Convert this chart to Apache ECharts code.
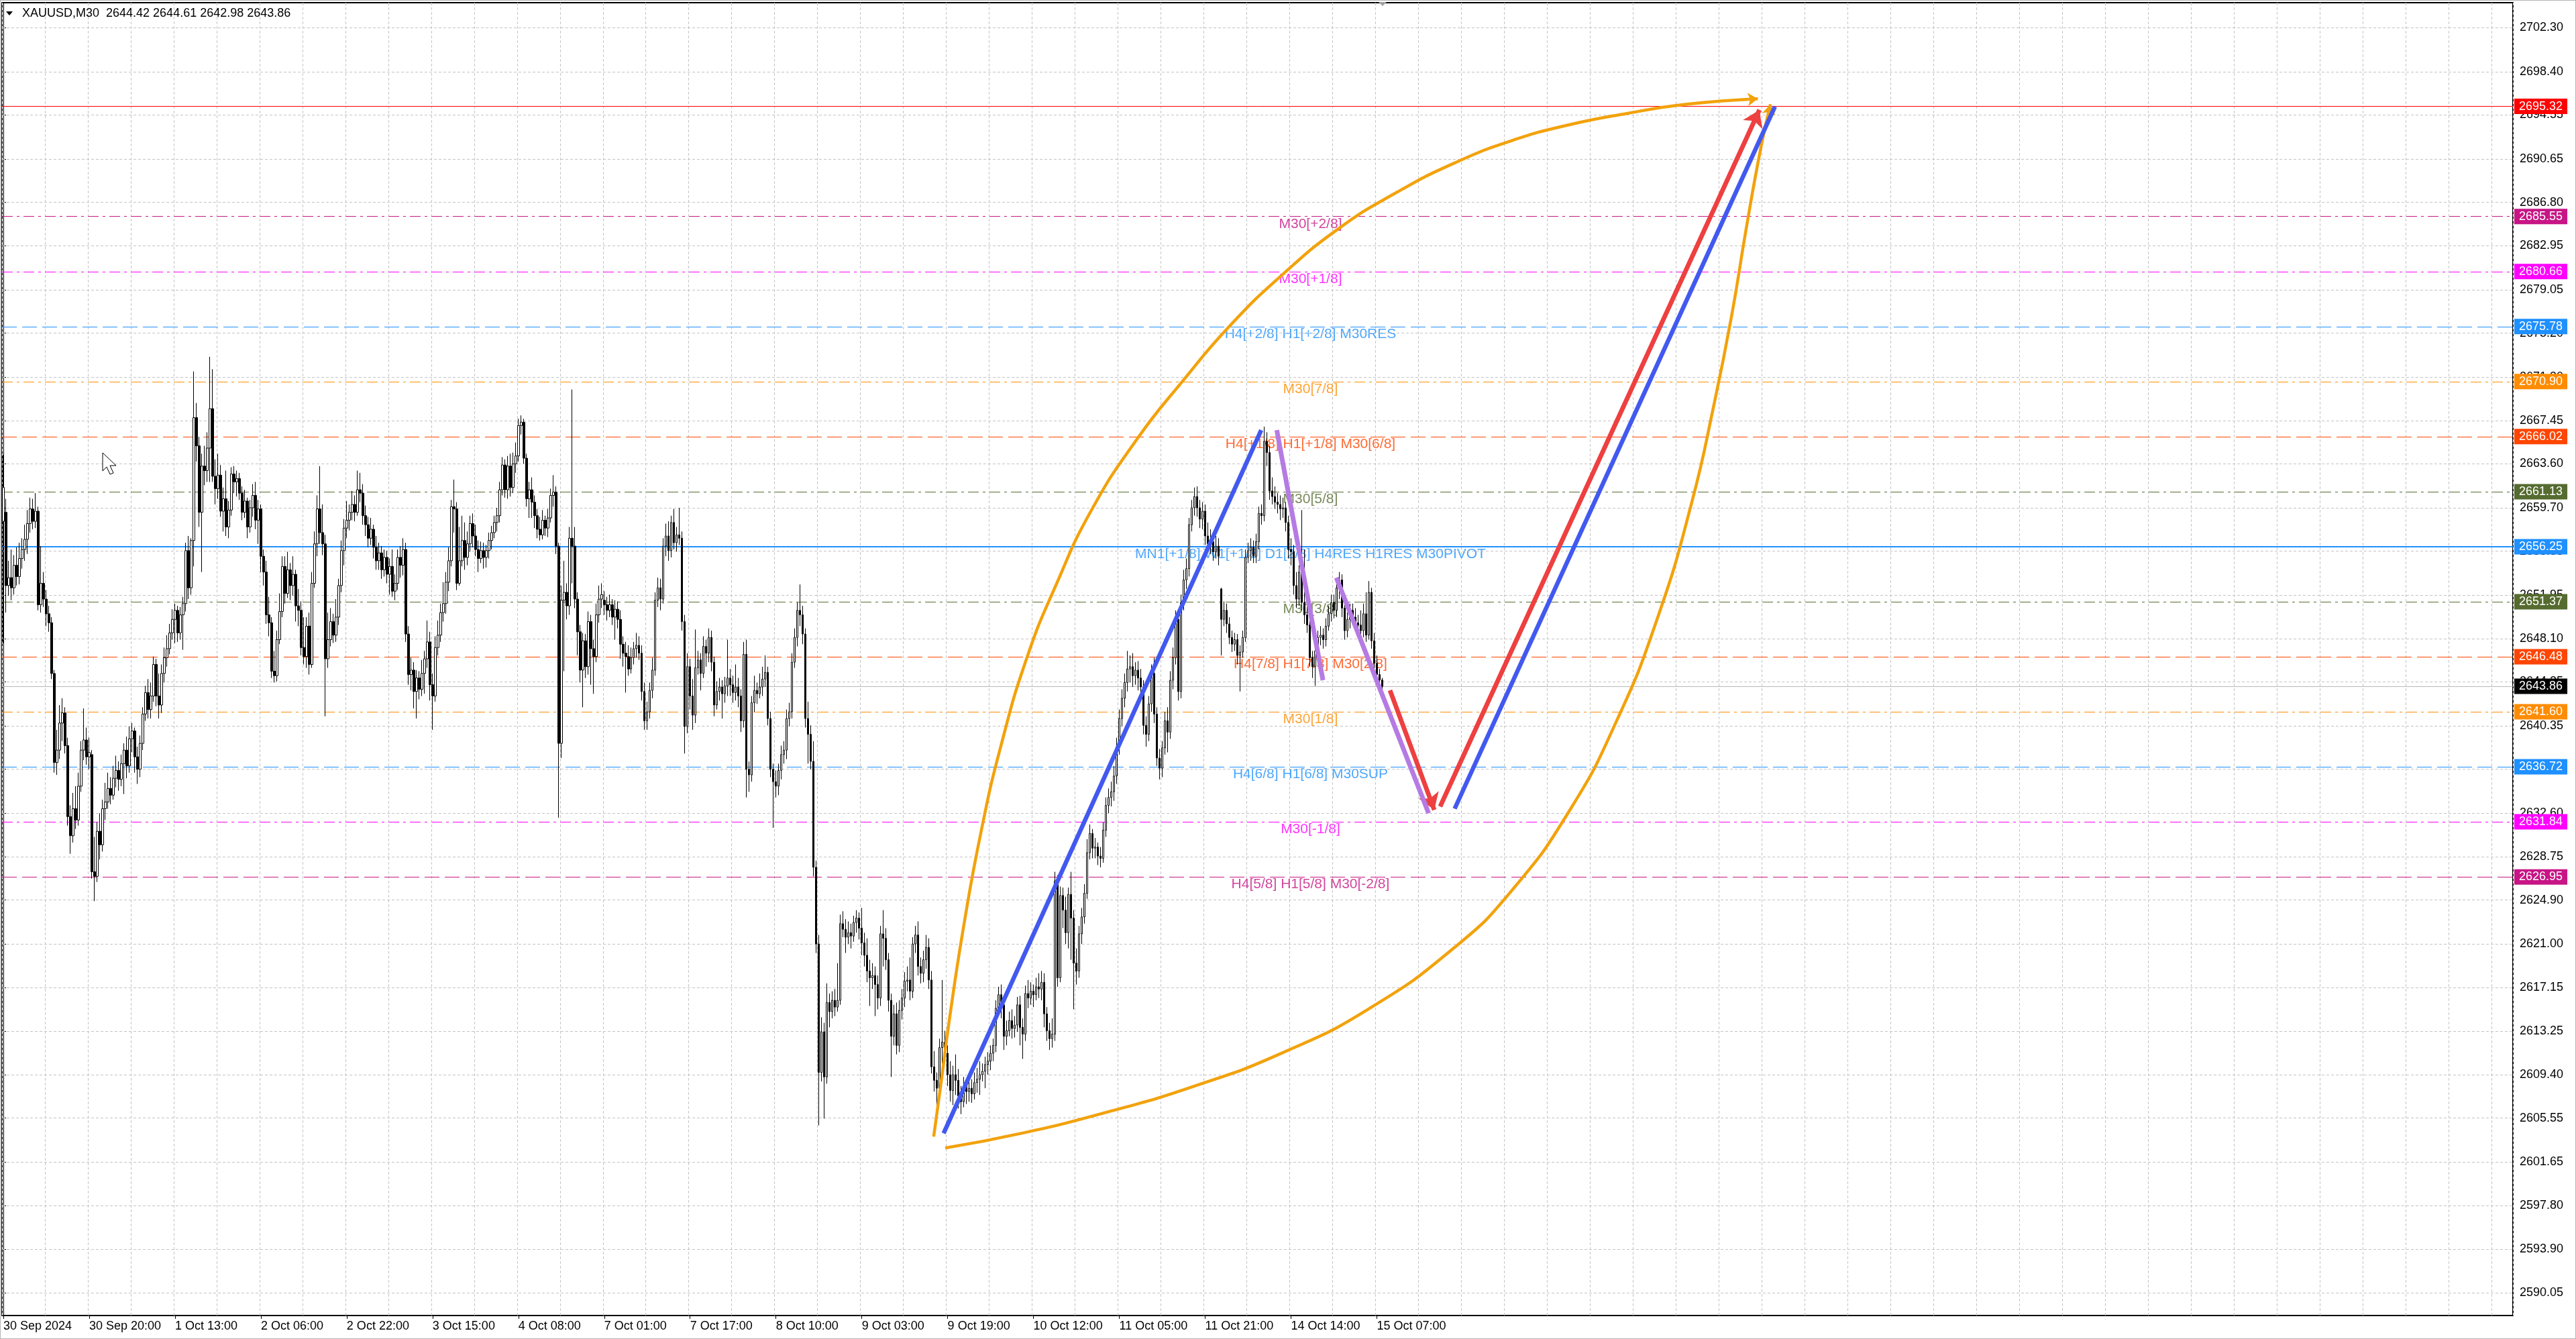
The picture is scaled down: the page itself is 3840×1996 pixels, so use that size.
<!DOCTYPE html>
<html><head><meta charset="utf-8">
<script src="https://cdn.jsdelivr.net/npm/echarts@6/dist/echarts.min.js"></script>
<style>html,body{margin:0;padding:0;background:#fff}#c{width:3840px;height:1996px}</style>
</head><body><div id="c"></div><script>
// ---------- DATA ----------
const header = 'XAUUSD,M30  2644.42 2644.61 2642.98 2643.86';
const xLabels = ['30 Sep 2024','30 Sep 20:00','1 Oct 13:00','2 Oct 06:00','2 Oct 22:00','3 Oct 15:00','4 Oct 08:00','7 Oct 01:00','7 Oct 17:00','8 Oct 10:00','9 Oct 03:00','9 Oct 19:00','10 Oct 12:00','11 Oct 05:00','11 Oct 21:00','14 Oct 14:00','15 Oct 07:00'];
const yTicks = [2702.30,2698.40,2694.55,2690.65,2686.80,2682.95,2679.05,2675.20,2671.30,2667.45,2663.60,2659.70,2655.85,2651.95,2648.10,2644.25,2640.35,2636.50,2632.60,2628.75,2624.90,2621.00,2617.15,2613.25,2609.40,2605.55,2601.65,2597.80,2593.90,2590.05];

// candles: [open, close, low, high], M30 bars per trading day
const sep30 = [
[2658.5,2661.5,2647.7,2664.4],[2659.3,2652.8,2650.4,2660.5],[2652.8,2653.5,2651.9,2655.0],[2653.5,2652.6,2651.5,2656.0],[2652.6,2654.6,2652.0,2655.5],
[2654.6,2653.6,2652.8,2656.2],[2653.6,2655.2,2652.9,2656.6],[2655.2,2656.0,2654.3,2657.0],[2656.0,2656.9,2655.0,2658.2],[2656.9,2658.3,2655.6,2659.5],
[2658.3,2659.6,2657.5,2660.6],[2659.6,2658.5,2657.8,2660.5],[2658.5,2659.4,2657.9,2661.0],[2659.4,2651.1,2650.6,2659.8],[2651.1,2653.0,2650.4,2656.3],
[2653.0,2651.6,2650.9,2654.0],[2651.6,2650.3,2649.2,2652.4],[2650.3,2649.5,2648.7,2651.0],[2649.5,2645.0,2644.5,2650.0],[2645.0,2637.1,2636.2,2645.3],
[2637.1,2638.2,2636.0,2640.0],[2638.2,2640.6,2637.4,2642.2],[2640.6,2641.5,2639.0,2642.8],[2641.5,2638.6,2637.9,2642.0],[2638.6,2632.3,2631.5,2639.3],
[2632.3,2630.6,2629.0,2633.3],[2630.6,2633.0,2630.0,2634.4],[2633.0,2632.0,2631.2,2635.0],[2632.0,2635.0,2631.5,2636.2],[2635.0,2638.2,2634.5,2639.0],
[2638.2,2639.1,2637.3,2641.9],[2639.1,2637.6,2636.9,2640.2],[2637.6,2638.0,2636.5,2639.3],[2637.8,2627.4,2626.8,2638.2],[2627.4,2627.0,2624.8,2630.5],
[2627.0,2631.0,2626.5,2631.8],[2631.0,2629.8,2628.5,2632.6],[2629.8,2633.0,2629.2,2633.8],[2633.0,2633.6,2632.0,2635.3],[2633.6,2634.8,2633.0,2636.2]];
const oct01 = [
[2634.8,2634.2,2633.4,2635.8],[2634.2,2635.7,2633.8,2636.8],[2635.7,2636.4,2634.9,2637.7],[2636.4,2635.6,2634.6,2637.2],[2635.6,2637.0,2635.0,2637.8],
[2637.0,2638.2,2634.3,2638.8],[2638.2,2636.8,2635.7,2639.4],[2636.8,2639.2,2636.2,2640.3],[2639.2,2639.9,2638.0,2640.6],[2639.9,2637.6,2636.2,2640.2],
[2637.6,2636.5,2635.2,2638.5],[2636.5,2638.8,2635.8,2639.5],[2638.8,2641.4,2638.2,2642.0],[2641.4,2643.3,2640.8,2643.9],[2643.3,2641.8,2641.0,2644.5],
[2641.8,2643.0,2641.0,2644.2],[2643.0,2645.8,2642.5,2646.5],[2645.8,2643.0,2642.1,2646.3],[2643.0,2642.2,2641.0,2645.0],[2642.2,2645.0,2641.5,2645.8],
[2645.0,2646.4,2644.2,2647.3],[2646.4,2647.2,2645.6,2648.4],[2647.2,2648.6,2646.7,2649.4],[2648.6,2649.8,2648.0,2650.7],[2649.8,2650.6,2647.7,2651.2],
[2650.6,2648.6,2647.8,2651.0],[2648.6,2650.2,2648.0,2650.9],[2650.2,2651.2,2647.1,2651.8],[2651.2,2655.9,2650.5,2656.6],[2655.9,2652.6,2651.6,2657.2],
[2652.6,2656.8,2652.0,2657.0],[2656.8,2667.7,2654.5,2671.8],[2667.7,2665.2,2663.8,2669.0],[2665.2,2659.3,2658.0,2666.0],[2659.3,2663.4,2654.0,2664.5],
[2663.4,2663.0,2661.7,2665.2],[2663.0,2665.0,2662.0,2666.4],[2665.0,2668.5,2662.0,2673.1],[2668.5,2662.5,2662.0,2672.0],[2662.5,2661.4,2660.0,2664.0],
[2661.4,2662.6,2660.5,2664.5],[2662.6,2659.4,2658.9,2663.5],[2659.4,2660.5,2657.6,2661.5],[2660.5,2658.0,2657.2,2663.0],[2658.0,2659.5,2657.0,2660.3],
[2659.5,2662.7,2659.0,2663.3]];
const oct02 = [
[2662.7,2662.0,2661.0,2663.4],[2662.0,2662.3,2660.7,2663.0],[2662.3,2661.0,2660.4,2662.8],[2661.0,2659.3,2658.6,2661.6],[2659.3,2660.3,2658.8,2661.3],
[2660.3,2658.0,2657.0,2660.6],[2658.0,2659.7,2657.5,2660.4],[2659.7,2660.8,2658.9,2661.8],[2660.8,2658.6,2657.8,2662.0],[2658.6,2659.6,2656.5,2660.4],
[2659.6,2655.4,2654.0,2660.0],[2655.4,2654.0,2652.8,2656.0],[2654.0,2650.2,2649.4,2655.0],[2650.2,2649.5,2648.3,2651.8],[2649.5,2645.2,2644.6,2650.0],
[2645.2,2644.8,2644.2,2647.0],[2644.8,2648.0,2644.3,2648.8],[2648.0,2650.5,2647.6,2652.1],[2650.5,2654.5,2650.0,2655.4],[2654.5,2652.1,2651.2,2655.4],
[2652.1,2654.2,2651.7,2655.8],[2654.2,2652.8,2651.5,2654.8],[2652.8,2653.8,2651.9,2655.4],[2653.8,2651.0,2649.6,2654.2],[2651.0,2650.6,2649.2,2652.5],
[2650.6,2647.3,2646.6,2651.4],[2647.3,2646.5,2645.8,2650.0],[2646.5,2649.2,2645.5,2650.0],[2649.2,2645.8,2644.9,2650.4],[2645.8,2653.0,2645.5,2654.0],
[2653.0,2656.5,2652.6,2657.6],[2656.5,2659.6,2655.4,2660.8],[2659.6,2657.5,2656.5,2663.4],[2657.5,2656.5,2655.5,2660.0],[2656.5,2646.3,2641.2,2657.3],
[2646.3,2648.0,2645.5,2650.4],[2648.0,2649.6,2647.4,2650.8],[2649.6,2648.4,2647.7,2650.3],[2648.4,2650.0,2647.8,2651.6],[2650.0,2652.8,2649.3,2653.4],
[2652.8,2655.9,2652.2,2656.8],[2655.9,2657.9,2654.6,2658.7],[2657.9,2658.6,2657.0,2660.3],[2658.6,2659.3,2657.7,2660.0],[2659.3,2660.0,2658.6,2661.2],
[2660.0,2659.3,2658.5,2660.8]];
const oct03 = [
[2659.3,2661.3,2659.0,2663.0],[2661.3,2661.0,2660.2,2662.8],[2661.0,2659.0,2658.2,2661.8],[2659.0,2658.2,2657.2,2659.9],[2658.2,2657.0,2656.2,2658.9],
[2657.0,2657.8,2656.4,2658.8],[2657.8,2656.2,2655.2,2658.2],[2656.2,2655.0,2654.2,2657.2],[2655.0,2655.7,2654.2,2656.6],[2655.7,2654.2,2653.4,2656.3],
[2654.2,2655.3,2653.6,2656.0],[2655.3,2653.8,2653.0,2655.9],[2653.8,2654.5,2652.0,2655.2],[2654.5,2652.3,2651.8,2656.0],[2652.3,2653.0,2651.5,2653.8],
[2653.0,2655.3,2652.4,2656.0],[2655.3,2654.6,2653.5,2656.3],[2654.6,2656.0,2653.7,2657.0],[2656.0,2648.5,2647.8,2656.6],[2648.5,2644.9,2644.0,2649.2],
[2644.9,2645.3,2643.5,2646.4],[2645.3,2643.4,2641.9,2646.0],[2643.4,2644.6,2641.0,2645.3],[2644.6,2643.6,2642.7,2645.2],[2643.6,2645.0,2643.0,2646.2],
[2645.0,2646.3,2643.2,2647.0],[2646.3,2647.8,2645.5,2649.7],[2647.8,2644.0,2642.6,2648.7],[2644.0,2643.0,2640.0,2645.0],[2643.0,2647.3,2642.5,2648.3],
[2647.3,2648.4,2646.6,2649.7],[2648.4,2650.4,2647.8,2651.2],[2650.4,2651.2,2649.6,2653.1],[2651.2,2653.1,2650.3,2654.0],[2653.1,2655.0,2652.3,2656.2],
[2655.0,2659.8,2654.5,2660.4],[2659.8,2659.6,2657.5,2662.2],[2659.6,2653.0,2652.4,2660.2],[2653.0,2655.0,2652.8,2658.0],[2655.0,2656.8,2654.5,2659.0],
[2656.8,2655.3,2654.2,2658.4],[2655.3,2656.5,2654.6,2657.6],[2656.5,2658.3,2655.8,2659.0],[2658.3,2657.2,2656.2,2659.2],[2657.2,2656.0,2655.4,2658.2],
[2656.0,2655.2,2654.0,2656.8]];
const oct04 = [
[2655.2,2655.9,2654.8,2656.7],[2655.9,2655.3,2654.3,2656.6],[2655.3,2655.9,2654.4,2656.4],[2655.9,2656.8,2655.2,2657.5],[2656.8,2657.5,2656.0,2658.1],
[2657.5,2658.4,2657.0,2659.0],[2658.4,2659.0,2657.6,2659.7],[2659.0,2661.3,2658.4,2662.0],[2661.3,2663.5,2660.8,2664.2],[2663.5,2661.3,2660.6,2664.0],
[2661.3,2663.4,2660.5,2664.3],[2663.4,2661.5,2660.7,2664.5],[2661.5,2663.6,2661.0,2664.6],[2663.6,2664.3,2662.8,2665.5],[2664.3,2667.0,2663.8,2667.6],
[2667.0,2667.3,2666.2,2667.9],[2667.3,2664.1,2663.6,2667.6],[2664.1,2660.5,2659.8,2664.5],[2660.5,2661.3,2658.8,2662.0],[2661.3,2660.2,2658.8,2662.4],
[2660.2,2659.0,2657.9,2660.8],[2659.0,2657.8,2657.0,2659.6],[2657.8,2657.3,2656.8,2658.9],[2657.3,2658.6,2656.9,2659.5],[2658.6,2657.9,2657.2,2659.0],
[2657.9,2658.8,2657.1,2659.6],[2658.8,2660.8,2658.4,2661.4],[2660.8,2661.1,2659.8,2662.6],[2661.1,2656.3,2655.6,2661.6],[2656.3,2638.8,2632.2,2656.6],
[2638.8,2651.5,2637.5,2652.8],[2651.5,2652.2,2645.2,2655.0],[2652.2,2651.0,2649.8,2653.0],[2651.0,2657.0,2650.2,2658.0],[2657.0,2656.3,2653.0,2670.2],
[2656.3,2651.6,2650.8,2658.0],[2651.6,2648.7,2646.6,2652.2],[2648.7,2645.3,2644.2,2649.3],[2645.3,2647.9,2642.0,2648.6],[2647.9,2645.6,2644.6,2648.5],
[2645.6,2649.6,2644.9,2650.5],[2649.6,2647.2,2644.0,2650.2],[2647.2,2646.5,2643.2,2648.0],[2646.5,2650.2,2646.0,2651.2],[2650.2,2651.6,2649.5,2652.8],
[2651.6,2652.0,2650.8,2653.0]];
const oct07 = [
[2651.5,2651.1,2650.2,2652.3],[2651.1,2650.6,2649.7,2651.8],[2650.6,2651.1,2650.0,2652.0],[2651.1,2650.0,2649.3,2651.6],[2650.0,2650.7,2648.0,2651.5],
[2650.7,2649.8,2649.0,2651.4],[2649.8,2647.6,2646.3,2650.6],[2647.6,2646.8,2645.6,2648.3],[2646.8,2646.5,2643.3,2647.8],[2646.5,2645.4,2644.8,2647.5],
[2645.4,2646.4,2645.0,2647.3],[2646.4,2647.2,2645.8,2647.8],[2647.2,2647.5,2646.4,2648.6],[2647.5,2646.8,2646.2,2648.3],[2646.8,2643.4,2642.6,2647.5],
[2643.4,2640.8,2640.0,2644.2],[2640.8,2641.6,2640.0,2642.5],[2641.6,2643.5,2641.0,2644.2],[2643.5,2645.3,2642.8,2646.4],[2645.3,2651.5,2644.8,2652.2],
[2651.5,2652.6,2650.9,2653.5],[2652.6,2651.6,2650.6,2653.4],[2651.6,2656.3,2651.2,2657.0],[2656.3,2657.2,2655.4,2658.3],[2657.2,2655.9,2655.0,2658.5],
[2655.9,2658.4,2655.3,2659.0],[2658.4,2656.6,2656.0,2659.6],[2656.6,2657.3,2655.8,2658.0],[2657.3,2657.0,2656.4,2659.7],[2657.0,2649.6,2648.8,2657.6],
[2649.6,2640.3,2637.9,2650.2],[2640.3,2645.6,2639.7,2646.8],[2645.6,2643.0,2641.8,2646.3],[2643.0,2641.3,2640.0,2644.5],[2641.3,2645.5,2640.6,2648.9],
[2645.5,2646.2,2644.9,2647.0],[2646.2,2645.0,2643.5,2646.8],[2645.0,2647.4,2644.6,2648.3],[2647.4,2646.8,2645.6,2648.0],[2646.8,2648.2,2646.0,2649.0],
[2648.2,2646.0,2645.2,2648.8],[2646.0,2642.2,2641.2,2646.5],[2642.2,2643.4,2641.8,2644.3],[2643.4,2643.8,2642.6,2644.6],[2643.8,2643.2,2641.0,2644.4],
[2643.2,2643.9,2642.4,2644.7]];
const oct08 = [
[2643.9,2644.6,2643.0,2648.0],[2644.6,2644.0,2643.0,2645.4],[2644.0,2643.3,2642.4,2644.8],[2643.3,2643.8,2642.6,2645.8],[2643.8,2643.0,2642.0,2644.6],
[2643.0,2640.8,2639.8,2643.6],[2640.8,2646.7,2640.2,2647.8],[2646.7,2636.5,2634.0,2648.0],[2636.5,2636.0,2634.5,2637.2],[2636.0,2642.4,2635.4,2643.0],
[2642.4,2643.5,2641.6,2644.8],[2643.5,2643.2,2642.3,2644.2],[2643.2,2643.8,2642.8,2645.0],[2643.8,2644.5,2643.0,2645.6],[2644.5,2645.1,2643.8,2646.6],
[2645.1,2641.0,2640.4,2645.6],[2641.0,2636.5,2635.8,2641.6],[2636.5,2635.4,2631.3,2637.0],[2635.4,2635.0,2634.0,2636.4],[2635.0,2636.4,2634.2,2637.0],
[2636.4,2637.8,2635.6,2638.6],[2637.8,2638.2,2637.0,2639.0],[2638.2,2641.0,2637.4,2641.8],[2641.0,2641.6,2640.3,2642.4],[2641.6,2646.0,2641.0,2646.8],
[2646.0,2648.2,2645.5,2649.0],[2648.2,2650.6,2647.4,2651.3],[2650.6,2650.2,2649.2,2652.9],[2650.2,2648.5,2647.6,2651.0],[2648.5,2641.0,2640.2,2649.0],
[2641.0,2639.6,2637.0,2642.5],[2639.6,2637.2,2636.5,2640.4],[2637.2,2627.8,2627.0,2639.0],[2627.8,2621.0,2620.2,2628.4],[2621.0,2609.6,2604.9,2621.8],
[2609.6,2613.2,2608.8,2614.5],[2613.2,2609.2,2605.5,2614.0],[2609.2,2615.8,2608.6,2617.5],[2615.8,2615.0,2613.6,2616.6],[2615.0,2616.0,2614.4,2616.8],
[2616.0,2615.4,2614.6,2617.0],[2615.4,2616.0,2615.0,2619.3],[2616.0,2622.8,2615.6,2623.6],[2622.8,2622.3,2621.6,2623.9],[2622.3,2621.6,2620.2,2623.2],
[2621.6,2622.0,2621.0,2623.0]];
const oct09 = [
[2622.0,2621.7,2620.6,2622.8],[2621.7,2622.9,2621.2,2623.5],[2622.9,2623.3,2622.0,2624.0],[2623.3,2622.4,2621.4,2623.8],[2622.4,2621.1,2620.0,2624.2],
[2621.1,2620.0,2619.0,2622.0],[2620.0,2618.6,2617.6,2621.5],[2618.6,2618.0,2615.5,2619.6],[2618.0,2618.2,2617.0,2619.3],[2618.2,2617.4,2614.6,2619.0],
[2617.4,2616.2,2615.2,2618.2],[2616.2,2621.9,2615.5,2622.6],[2621.9,2621.5,2619.0,2624.0],[2621.5,2619.6,2618.7,2622.4],[2619.6,2616.0,2615.0,2620.2],
[2616.0,2612.8,2609.2,2616.6],[2612.8,2614.8,2612.0,2615.6],[2614.8,2612.0,2611.2,2615.8],[2612.0,2615.1,2611.4,2616.0],[2615.1,2616.2,2614.3,2617.0],
[2616.2,2617.7,2615.4,2618.5],[2617.7,2617.8,2616.8,2619.0],[2617.8,2616.8,2616.0,2619.8],[2616.8,2621.0,2616.2,2621.6],[2621.0,2621.8,2620.2,2622.6],
[2621.8,2619.0,2618.2,2623.0],[2619.0,2618.4,2617.5,2619.8],[2618.4,2619.6,2617.6,2620.4],[2619.6,2620.7,2618.8,2621.8],[2620.7,2617.8,2617.0,2621.5],
[2617.8,2610.1,2609.5,2618.6],[2610.1,2608.9,2607.9,2611.5],[2608.9,2608.2,2605.4,2609.6],[2608.2,2611.8,2607.6,2612.6],[2611.8,2612.3,2610.4,2617.8],
[2612.3,2611.3,2610.6,2613.3],[2611.3,2609.4,2608.4,2612.0],[2609.4,2608.0,2607.0,2610.6],[2608.0,2609.4,2606.7,2610.2],[2609.4,2608.9,2607.6,2611.2],
[2608.9,2607.5,2606.4,2609.9],[2607.5,2607.0,2605.9,2608.4],[2607.0,2608.4,2606.5,2609.2],[2608.4,2607.9,2606.8,2609.0],[2607.9,2608.2,2607.0,2609.4],
[2608.2,2607.7,2606.9,2609.0]];
const oct10 = [
[2607.7,2608.7,2607.2,2609.6],[2608.7,2609.0,2607.8,2610.0],[2609.0,2609.4,2607.6,2610.6],[2609.4,2609.7,2608.8,2610.4],[2609.7,2610.3,2608.2,2611.0],
[2610.3,2610.6,2609.4,2611.4],[2610.6,2611.3,2609.8,2612.0],[2611.3,2612.0,2610.6,2612.6],[2612.0,2615.3,2611.4,2616.0],[2615.3,2616.5,2614.6,2617.2],
[2616.5,2615.6,2614.4,2617.4],[2615.6,2612.8,2611.6,2616.2],[2612.8,2613.3,2612.0,2614.2],[2613.3,2614.2,2612.8,2615.0],[2614.2,2613.5,2612.6,2615.2],
[2613.5,2613.8,2612.7,2614.6],[2613.8,2615.6,2613.2,2616.3],[2615.6,2613.6,2612.0,2616.4],[2613.6,2613.0,2610.8,2614.4],[2613.0,2616.6,2612.4,2617.3],
[2616.6,2616.2,2615.3,2617.8],[2616.2,2616.8,2615.6,2617.6],[2616.8,2616.5,2615.4,2617.4],[2616.5,2617.2,2616.0,2618.0],[2617.2,2617.0,2616.2,2618.4],
[2617.0,2617.6,2616.0,2618.6],[2617.6,2614.8,2613.6,2618.4],[2614.8,2613.3,2612.4,2615.4],[2613.3,2612.6,2611.6,2614.0],[2612.6,2613.0,2611.8,2614.4],
[2613.0,2626.6,2612.4,2627.4],[2626.6,2618.0,2617.2,2627.1],[2618.0,2625.3,2617.6,2626.1],[2625.3,2624.0,2622.4,2626.0],[2624.0,2622.0,2621.0,2625.2],
[2622.0,2625.4,2620.6,2626.0],[2625.4,2623.3,2619.6,2627.4],[2623.3,2619.3,2615.2,2624.0],[2619.3,2618.6,2617.4,2620.6],[2618.6,2621.9,2618.0,2622.6],
[2621.9,2623.4,2621.0,2624.2],[2623.4,2625.5,2622.8,2626.3],[2625.5,2629.1,2625.0,2630.3],[2629.1,2630.8,2628.5,2631.6],[2630.8,2629.5,2628.6,2631.2],
[2629.5,2629.6,2628.6,2630.4]];
const oct11 = [
[2629.6,2628.8,2628.0,2630.0],[2628.8,2628.6,2627.8,2629.6],[2628.6,2631.1,2628.2,2631.8],[2631.1,2633.3,2630.5,2634.0],[2633.3,2634.0,2632.6,2634.8],
[2634.0,2634.5,2633.2,2635.4],[2634.5,2635.9,2633.7,2636.8],[2635.9,2638.5,2635.2,2639.3],[2638.5,2641.0,2637.8,2641.8],[2641.0,2642.8,2640.3,2643.6],
[2642.8,2644.2,2642.0,2645.0],[2644.2,2645.4,2643.4,2647.0],[2645.4,2645.6,2644.2,2646.6],[2645.6,2644.8,2643.8,2646.8],[2644.8,2645.3,2644.0,2646.0],
[2645.3,2644.6,2643.5,2646.1],[2644.6,2643.8,2643.0,2645.4],[2643.8,2640.4,2639.6,2644.4],[2640.4,2639.6,2638.5,2641.2],[2639.6,2642.3,2639.0,2643.0],
[2642.3,2645.0,2641.6,2645.8],[2645.0,2641.4,2640.6,2646.4],[2641.4,2637.5,2636.8,2642.0],[2637.5,2636.6,2635.6,2638.3],[2636.6,2638.4,2635.8,2639.0],
[2638.4,2640.8,2637.8,2641.6],[2640.8,2639.8,2638.0,2642.0],[2639.8,2644.4,2639.2,2645.2],[2644.4,2646.4,2643.6,2647.3],[2646.4,2649.8,2645.8,2650.6],
[2649.8,2643.4,2642.6,2650.6],[2643.4,2651.3,2642.8,2652.0],[2651.3,2653.3,2650.6,2654.2],[2653.3,2654.3,2652.5,2655.2],[2654.3,2658.2,2653.6,2658.8],
[2658.2,2659.7,2657.6,2660.4],[2659.7,2660.7,2659.0,2661.5],[2660.7,2659.7,2658.9,2661.6],[2659.7,2658.7,2657.9,2660.4],[2658.7,2659.4,2657.8,2660.2],
[2659.4,2657.2,2656.4,2660.0],[2657.2,2656.5,2655.8,2658.4],[2656.5,2656.7,2655.6,2657.8],[2656.7,2655.8,2655.0,2657.4],[2655.8,2656.3,2655.2,2657.2],
[2656.3,2655.4,2654.6,2657.0]];
const oct14 = [
[2652.5,2649.8,2646.6,2652.6],[2649.8,2650.6,2649.2,2651.4],[2650.6,2649.4,2648.6,2651.2],[2649.4,2648.2,2647.6,2650.0],[2648.2,2647.6,2646.9,2648.8],
[2647.6,2648.0,2647.0,2648.6],[2648.0,2646.6,2645.8,2648.5],[2646.6,2646.9,2643.4,2647.5],[2646.9,2648.2,2646.4,2648.8],[2648.2,2655.3,2647.8,2656.0],
[2655.3,2655.9,2654.8,2656.6],[2655.9,2656.2,2655.0,2657.0],[2656.2,2655.4,2654.8,2656.8],[2655.4,2656.7,2654.8,2657.4],[2656.7,2659.2,2656.0,2659.8],
[2659.2,2659.0,2658.2,2660.0],[2659.0,2665.6,2658.5,2666.9],[2665.6,2664.6,2663.4,2666.4],[2664.6,2661.2,2660.4,2665.2],[2661.2,2660.7,2660.0,2662.4],
[2660.7,2660.2,2659.6,2661.6],[2660.2,2660.0,2659.2,2661.0],[2660.0,2659.6,2658.6,2660.8],[2659.6,2659.7,2658.8,2660.6],[2659.7,2658.4,2657.6,2660.2],
[2658.4,2656.0,2655.2,2659.0],[2656.0,2655.8,2654.6,2657.0],[2655.8,2652.8,2652.0,2656.4],[2652.8,2651.6,2650.8,2654.0],[2651.6,2654.0,2651.0,2654.6],
[2654.0,2651.3,2650.6,2659.5],[2651.3,2650.2,2649.4,2656.0],[2650.2,2649.3,2648.6,2652.0],[2649.3,2646.4,2645.6,2650.0],[2646.4,2645.6,2644.6,2647.0],
[2645.6,2647.0,2643.9,2647.6],[2647.0,2648.2,2646.4,2648.8],[2648.2,2648.4,2647.5,2649.2],[2648.4,2648.0,2647.2,2649.0],[2648.0,2649.2,2647.4,2649.9],
[2649.2,2650.3,2648.8,2651.0],[2650.3,2651.3,2649.6,2652.0],[2651.3,2650.6,2649.9,2652.0],[2650.6,2652.6,2650.0,2653.4],[2652.6,2653.3,2651.6,2654.0],
[2653.3,2650.8,2650.0,2653.8]];
const oct15 = [
[2650.8,2648.8,2648.0,2651.4],[2648.8,2649.8,2648.2,2650.4],[2649.8,2650.6,2649.0,2651.2],[2650.6,2650.0,2649.4,2651.2],[2650.0,2649.5,2648.8,2650.8],
[2649.5,2649.3,2648.4,2650.2],[2649.3,2648.8,2648.0,2650.6],[2648.8,2650.3,2648.2,2651.2],[2650.3,2648.4,2647.8,2652.2],[2648.4,2652.2,2648.0,2653.2],
[2652.2,2647.9,2647.2,2652.6],[2647.9,2645.9,2645.2,2648.6],[2645.9,2644.9,2644.0,2646.6],[2644.9,2644.42,2643.6,2645.4],[2644.42,2643.86,2642.98,2644.61]];

// Murrey-style levels (price, caption)
const levelPrices = [2695.32,2685.55,2680.66,2675.78,2670.90,2666.02,2661.13,2656.25,2651.37,2646.48,2643.86,2641.60,2636.72,2631.84,2626.95];
const levelNames = ['','M30[+2/8]','M30[+1/8]','H4[+2/8] H1[+2/8] M30RES','M30[7/8]','H4[+1/8] H1[+1/8] M30[6/8]','M30[5/8]','MN1[+1/8] W1[+1/8] D1[2/8] H4RES H1RES M30PIVOT','M30[3/8]','H4[7/8] H1[7/8] M30[2/8]','','M30[1/8]','H4[6/8] H1[6/8] M30SUP','M30[-1/8]','H4[5/8] H1[5/8] M30[-2/8]'];

// hand-drawn projection (bar index, price)
const upperArc = [[346.8,2603.9],[349.4,2608.4],[352.6,2614.2],[358.0,2622.6],[364.5,2631.0],[372.0,2638.7],[381.7,2646.5],[392.5,2652.9],[405.4,2659.4],[422.6,2665.8],[439.8,2671.0],[457.0,2675.8],[476.4,2680.3],[497.9,2684.5],[519.5,2687.7],[541.0,2690.3],[562.5,2692.3],[584.0,2693.7],[605.5,2694.7],[627.1,2695.5],[654.0,2696.0]];
const lowerArc = [[351.1,2602.9],[379.5,2604.2],[411.8,2606.1],[444.1,2608.4],[476.4,2611.3],[508.7,2615.2],[541.0,2620.7],[562.5,2625.8],[584.0,2632.9],[601.2,2640.7],[616.3,2649.7],[629.2,2660.0],[637.8,2669.0],[644.3,2676.8],[649.7,2684.5],[655.1,2691.6],[658.7,2695.5]];
const blueUp1 = [[350.5,2604.2],[468.9,2666.6]];
const purpleDown1 = [[474.7,2666.6],[491.9,2644.4]];
const purpleDown2 = [[496.9,2653.5],[531.3,2632.6]];
const redDown = [[516.9,2643.5],[533.4,2632.9]];
const redUp = [[535.6,2633.2],[654.6,2695.0]];
const blueUp2 = [[541.0,2633.0],[660.4,2695.3]];

// ---------- STYLE ----------
const FONT = "'Liberation Sans', Arial, sans-serif";
const DD = [16,6,4,6];   // dash-dot
const LD = [22,8];       // long dash
const levelStyle = [
  {c:'#ff0000',t:'solid',w:1},{c:'#c71585',t:DD,w:1},{c:'#ff00ff',t:DD,w:1},{c:'#1e90ff',t:LD,w:1},
  {c:'#ff8c00',t:DD,w:1},{c:'#ff4500',t:LD,w:1},{c:'#556b2f',t:DD,w:1},{c:'#1e90ff',t:'solid',w:2},
  {c:'#556b2f',t:DD,w:1},{c:'#ff4500',t:LD,w:1},{c:'#b8b8b8',t:'solid',w:1,box:'#000000'},{c:'#ff8c00',t:DD,w:1},
  {c:'#1e90ff',t:LD,w:1},{c:'#ff00ff',t:DD,w:1},{c:'#c71585',t:LD,w:1}];
const TEXT_X = 487.25;
const NCAT = 936;
const ORANGE = '#f2a20c', BLUE = '#4259ef', PURPLE = '#b57be3', RED = '#ee4040';

const candles = [].concat(sep30, oct01, oct02, oct03, oct04, oct07, oct08, oct09, oct10, oct11, oct14, oct15);
const cats = Array.from({length: NCAT}, (_, i) => i);
const isLabel = (i) => i % 32 === 0 && (i / 32) < xLabels.length;

const chart = echarts.init(document.getElementById('c'), null, {renderer: 'canvas'});
const dummy = [[0, 2600]];

const option = {
  animation: false,
  backgroundColor: '#ffffff',
  grid: {left: 3, top: 4, right: 94, bottom: 35, show: true, borderColor: '#000', borderWidth: 2, backgroundColor: '#fff'},
  xAxis: [{
    type: 'category', data: cats, boundaryGap: true,
    axisLine: {show: true, lineStyle: {color: '#000', width: 1}},
    axisTick: {show: true, interval: (i) => isLabel(i), alignWithLabel: true, length: 5, lineStyle: {color: '#000'}},
    axisLabel: {interval: (i) => isLabel(i), formatter: (v, i) => isLabel(i) ? xLabels[i / 32] : '', align: 'left', margin: 7, color: '#000', fontSize: 18, fontFamily: FONT},
    splitLine: {show: true, interval: (i) => i % 16 === 0, lineStyle: {color: '#c4c4c4', type: [4, 3], width: 1}}
  }, {
    type: 'value', min: -0.5, max: NCAT - 0.5, show: false
  }],
  yAxis: [{
    type: 'value', position: 'right', min: 2588.03, max: 2704.52, scale: true,
    axisLine: {show: true, lineStyle: {color: '#000'}},
    axisTick: {show: true, customValues: yTicks, length: 4, lineStyle: {color: '#000'}},
    axisLabel: {customValues: yTicks, formatter: (v) => Number(v).toFixed(2), color: '#000', fontSize: 18, fontFamily: FONT, margin: 10},
    splitLine: {show: false}
  }],
  series: [
    { // horizontal grid lines at price ticks
      type: 'line', xAxisIndex: 1, data: dummy, showSymbol: false, lineStyle: {opacity: 0}, silent: true, z: 1,
      markLine: {silent: true, symbol: 'none', label: {show: false},
        lineStyle: {color: '#c4c4c4', type: [4, 3], width: 1},
        data: yTicks.map(v => ({yAxis: v}))}
    },
    { // level lines with price boxes on the axis
      type: 'line', xAxisIndex: 1, data: dummy, showSymbol: false, lineStyle: {opacity: 0}, silent: true, z: 3,
      markLine: {silent: true, symbol: 'none',
        data: levelPrices.map((p, i) => ({
          yAxis: p,
          lineStyle: {color: levelStyle[i].c, type: levelStyle[i].t, width: levelStyle[i].w, opacity: 1},
          label: {show: true, position: 'end', distance: 2, formatter: p.toFixed(2),
            backgroundColor: levelStyle[i].box || levelStyle[i].c, color: '#fff',
            fontSize: 18, fontFamily: FONT, padding: [3, 7, 2, 7]}
        }))}
    },
    { // level captions
      type: 'scatter', xAxisIndex: 1, symbolSize: 0, silent: true, z: 3,
      data: levelPrices.map((p, i) => ({value: [TEXT_X, p], name: levelNames[i],
        label: {show: levelNames[i] !== '', color: levelStyle[i].c}})),
      label: {show: true, position: 'bottom', distance: 1, formatter: (d) => d.name, fontSize: 21, fontFamily: FONT}
    },
    {
      type: 'candlestick', xAxisIndex: 0, data: candles, z: 5, barWidth: 3, silent: true,
      itemStyle: {color: '#ffffff', color0: '#000000', borderColor: '#000000', borderColor0: '#000000', borderWidth: 1}
    },
    {type: 'line', xAxisIndex: 1, data: upperArc, smooth: true, showSymbol: false, z: 7, lineStyle: {color: ORANGE, width: 4.5},
      markLine: {silent: true, symbol: ['none', 'arrow'], symbolSize: 15, label: {show: false}, lineStyle: {color: ORANGE, width: 3, type: 'solid'},
        data: [[{coord: [646, 2695.85]}, {coord: [654.0, 2696.0]}]]}},
    {type: 'line', xAxisIndex: 1, data: lowerArc, smooth: true, showSymbol: false, z: 7, lineStyle: {color: ORANGE, width: 4.5},
      markLine: {silent: true, symbol: ['none', 'arrow'], symbolSize: 15, label: {show: false}, lineStyle: {color: ORANGE, width: 3, type: 'solid'},
        data: [[{coord: [657.6, 2693.9]}, {coord: [658.7, 2695.5]}]]}},
    {type: 'line', xAxisIndex: 1, data: blueUp1, showSymbol: false, z: 8, lineStyle: {color: BLUE, width: 6.5}},
    {type: 'line', xAxisIndex: 1, data: blueUp2, showSymbol: false, z: 8, lineStyle: {color: BLUE, width: 6.5}},
    {type: 'line', xAxisIndex: 1, data: purpleDown1, showSymbol: false, z: 8, lineStyle: {color: PURPLE, width: 7}},
    {type: 'line', xAxisIndex: 1, data: purpleDown2, showSymbol: false, z: 8, lineStyle: {color: PURPLE, width: 7}},
    {type: 'line', xAxisIndex: 1, data: redDown, showSymbol: false, z: 9, lineStyle: {color: RED, width: 6.5},
      markLine: {silent: true, symbol: ['none', 'arrow'], symbolSize: 24, label: {show: false}, lineStyle: {color: RED, width: 6.5, type: 'solid'},
        data: [[{coord: redDown[0]}, {coord: redDown[1]}]]}},
    {type: 'line', xAxisIndex: 1, data: redUp, showSymbol: false, z: 9, lineStyle: {color: RED, width: 6.5},
      markLine: {silent: true, symbol: ['none', 'arrow'], symbolSize: 24, label: {show: false}, lineStyle: {color: RED, width: 6.5, type: 'solid'},
        data: [[{coord: redUp[0]}, {coord: redUp[1]}]]}}
  ],
  graphic: [
    {type: 'rect', silent: true, z: 100, shape: {x: 0, y: 0, width: 3840, height: 1996}, style: {fill: 'none', stroke: '#b4b4b4', lineWidth: 2}},
    {type: 'polygon', silent: true, z: 100, shape: {points: [[9, 17], [19, 17], [14, 23]]}, style: {fill: '#000'}},
    {type: 'text', silent: true, z: 100, left: 33, top: 11, style: {text: header, fill: '#000', font: '18px ' + FONT}},
    {type: 'polygon', silent: true, z: 100, shape: {points: [[2055, 3], [2067, 3], [2061, 9]]}, style: {fill: '#a0a0a0'}},
    {type: 'polygon', silent: true, z: 100, shape: {points: [[153, 675], [153, 702], [159, 696], [164, 707], [169, 705], [164, 694], [173, 694]]}, style: {fill: '#fff', stroke: '#000', lineWidth: 1}}
  ]
};
chart.setOption(option);
</script></body></html>
